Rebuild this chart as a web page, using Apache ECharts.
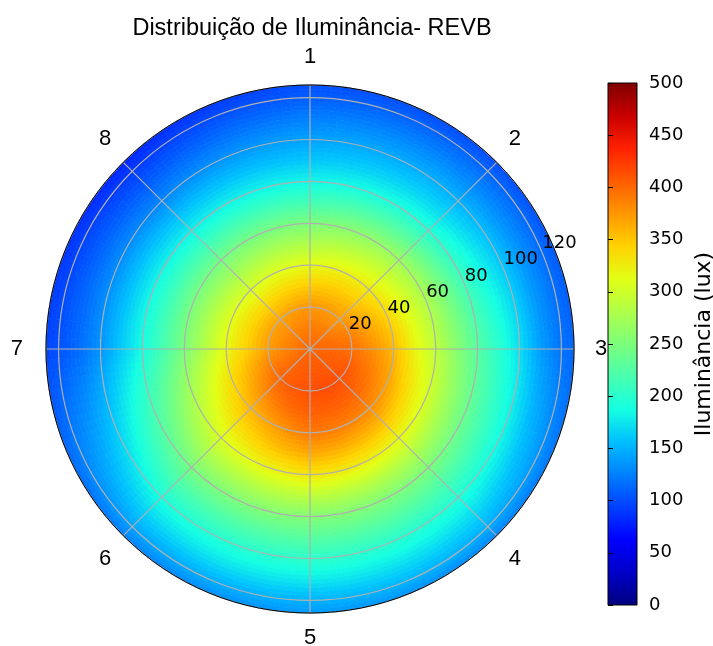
<!DOCTYPE html>
<html><head><meta charset="utf-8">
<script src="https://cdn.jsdelivr.net/npm/echarts@6/dist/echarts.min.js"></script>
<style>html,body{margin:0;padding:0;background:#fff}#c{width:713px;height:646px}</style>
</head><body><div id="c"></div>
<script>
const chartTitle = 'Distribuição de Iluminância- REVB';
const colorbarName = 'Iluminância (lux)';
const angleLabels = ['1','2','3','4','5','6','7','8'];
const radialTicks = [20,40,60,80,100,120];
const colorbarTicks = [0,50,100,150,200,250,300,350,400,450,500];
const R_MAX = 126;
// radial sample positions
const radii = [0,10,20,30,40,50,60,70,80,90,100,110,120,126];
// angular sample positions (degrees clockwise from direction 1)
const angles = [0,22.5,45,67.5,90,112.5,135,157.5,180,202.5,225,247.5,270,292.5,315,337.5];
// illuminance (lux) along each angle, one value per radius
const lux_a000 = [400,390,376,348,315,282,250,215,183,160,142,125,108,102];
const lux_a022 = [400,390,375,350,322,291,260,224,189,165,146,128,110,101];
const lux_a045 = [400,392,374,352,328,300,270,232,195,170,150,130,112,100];
const lux_a067 = [400,396,386,366,342,310,280,245,212,185,161,135,115,105];
const lux_a090 = [400,402,397,380,357,320,290,258,228,200,172,140,118,112];
const lux_a112 = [400,405,408,392,370,336,304,270,239,211,184,156,134,120];
const lux_a135 = [400,408,415,403,383,352,318,282,250,222,195,172,148,128];
const lux_a157 = [400,409,416,406,389,360,326,287,253,226,200,176,152,135];
const lux_a180 = [400,409,414,406,392,366,331,290,255,228,203,178,150,138];
const lux_a202 = [400,406,410,398,375,351,320,285,253,224,198,175,148,133];
const lux_a225 = [400,403,405,384,359,334,308,278,248,219,192,168,143,125];
const lux_a247 = [400,395,389,365,338,310,279,248,218,190,163,142,124,112];
const lux_a270 = [400,388,373,345,318,285,250,218,188,162,135,115,102,96];
const lux_a292 = [400,387,371,342,312,280,248,215,184,158,132,112,95,88];
const lux_a315 = [400,387,369,338,305,275,245,212,180,155,128,108,90,80];
const lux_a337 = [400,388,372,343,310,278,247,213,181,157,135,116,99,90];
const luxByAngle = [lux_a000,lux_a022,lux_a045,lux_a067,lux_a090,lux_a112,lux_a135,lux_a157,
                    lux_a180,lux_a202,lux_a225,lux_a247,lux_a270,lux_a292,lux_a315,lux_a337];

const jet = ['#000080','#0000c8','#0000ff','#0040ff','#0080ff','#00bfff','#15ffe2','#48ffaf',
             '#7bff7b','#afff48','#e2ff15','#ffd200','#ff9700','#ff5c00','#ff2100','#c80000','#800000'];
const V_MIN = 0, V_MAX = 500;

const data = [];
angles.forEach((a, ai) => {
  radii.forEach((r, ri) => { data.push([r, a, luxByAngle[ai][ri]]); });
});

function colorOf(v) {
  const t = Math.max(0, Math.min(1, (v - V_MIN) / (V_MAX - V_MIN)));
  return echarts.color.lerp(t, jet);
}

// Each sample point anchors the cell spanning to the next radius and next angle;
// the cell is shaded smoothly between its four corner samples (gouraud-like shading).
function renderItem(params, api) {
  const r = api.value(0), a = api.value(1);
  const ri = radii.indexOf(r), ai = angles.indexOf(a);
  if (ri < 0 || ai < 0 || ri === radii.length - 1) return { type: 'group', children: [] };
  const aj = (ai + 1) % angles.length;
  const rNext = radii[ri + 1];
  const aNext = ai + 1 < angles.length ? angles[ai + 1] : 360;
  const v00 = luxByAngle[ai][ri], v01 = luxByAngle[ai][ri + 1];
  const v10 = luxByAngle[aj][ri], v11 = luxByAngle[aj][ri + 1];
  const cs = params.coordSys;
  const cx = cs.cx, cy = cs.cy;
  const nR = rNext - r > 7 ? 5 : 3, nA = 10;
  const rad = rv => { const p = api.coord([rv, a]); return Math.hypot(p[0] - cx, p[1] - cy); };
  const ang = av => { const p = api.coord([R_MAX, av]); return Math.atan2(p[1] - cy, p[0] - cx); };
  const rPx = [], aPx = [];
  for (let k = 0; k <= nR; k++) rPx.push(rad(r + (rNext - r) * k / nR));
  for (let k = 0; k <= nA; k++) aPx.push(ang(a + (aNext - a) * k / nA));
  const children = [];
  for (let j = 0; j < nA; j++) {
    let sa = aPx[j], ea = aPx[j + 1];
    if (ea < sa) ea += 2 * Math.PI;
    const u = (j + 0.5) / nA;
    for (let k = 0; k < nR; k++) {
      const w = (k + 0.5) / nR;
      const v = (1 - u) * (1 - w) * v00 + u * (1 - w) * v10 + (1 - u) * w * v01 + u * w * v11;
      const c = colorOf(v);
      children.push({
        type: 'sector',
        shape: { cx: cx, cy: cy, r0: rPx[k], r: rPx[k + 1], startAngle: sa, endAngle: ea, clockwise: true },
        style: { fill: c, stroke: c, lineWidth: 0.7 }
      });
    }
  }
  return { type: 'group', children: children };
}

// colour bar: one rectangle spanning the value range, filled with the jet ramp
function renderColorbar(params, api) {
  const p0 = api.coord([api.value(0), api.value(1)]);
  const p1 = api.coord([api.value(2), api.value(3)]);
  const stops = jet.map((c, k) => ({ offset: k / (jet.length - 1), color: jet[jet.length - 1 - k] }));
  return {
    type: 'rect',
    shape: { x: p0[0], y: p1[1], width: p1[0] - p0[0], height: p0[1] - p1[1] },
    style: { fill: new echarts.graphic.LinearGradient(0, 0, 0, 1, stops) }
  };
}

const angleRich = {
  p0: {}, p1: {}, p2: { padding: [0, 0, 0, 4] }, p3: {}, p4: { lineHeight: 16 }, p5: {},
  p6: { padding: [0, 6, 0, 0] }, p7: {}
};

const chart = echarts.init(document.getElementById('c'), null, { renderer: 'canvas' });
chart.setOption({
  animation: false,
  backgroundColor: '#fff',
  title: {
    text: chartTitle, left: 307, top: 12, textAlign: 'center',
    textStyle: { fontFamily: 'Liberation Sans', fontSize: 23.5, fontWeight: 'normal', color: '#000' }
  },
  polar: [
    { center: [310, 349], radius: 264 },
    { center: [310, 349], radius: 264 }
  ],
  angleAxis: [
    {
      polarIndex: 0, type: 'value', min: 0, max: 360, interval: 45, startAngle: 90, clockwise: true, z: 11,
      axisLine: { show: true, lineStyle: { color: '#000', width: 1 } },
      axisTick: { show: false },
      axisLabel: {
        formatter: v => { if (v >= 360) return ''; const i = Math.round(v / 45); return '{p' + i + '|' + angleLabels[i] + '}'; },
        fontFamily: 'Liberation Sans', fontSize: 22, color: '#000', margin: 17, rich: angleRich
      },
      splitLine: { show: true, lineStyle: { color: '#b0b0b0', width: 1.2 } }
    },
    {
      polarIndex: 1, type: 'value', min: 0, max: 360, startAngle: 22.5, show: false
    }
  ],
  radiusAxis: [
    {
      polarIndex: 0, type: 'value', min: 0, max: R_MAX, interval: 20, z: 10,
      axisLine: { show: false }, axisTick: { show: false }, axisLabel: { show: false },
      splitLine: { show: true, lineStyle: { color: '#b0b0b0', width: 1.2 } }
    },
    {
      polarIndex: 1, type: 'value', min: 0, max: R_MAX, interval: 20, z: 12,
      axisLine: { show: false }, axisTick: { show: false }, splitLine: { show: false },
      axisLabel: { formatter: v => (radialTicks.indexOf(v) >= 0 ? String(v) : ''), fontFamily: 'DejaVu Sans',
                   fontSize: 18, color: '#000', margin: 0, align: 'left', verticalAlign: 'bottom' }
    }
  ],
  grid: { left: 608, top: 83, width: 29, height: 522, show: true, borderColor: '#000', borderWidth: 1,
          backgroundColor: 'transparent', z: 6, containLabel: false, outerBoundsMode: 'none' },
  xAxis: { type: 'value', show: false, min: 0, max: 1 },
  yAxis: {
    type: 'value', min: V_MIN, max: V_MAX, interval: 50, position: 'right', z: 6,
    axisLine: { show: false },
    axisTick: { show: true, length: 5, lineStyle: { color: '#000', width: 1 } },
    axisLabel: { formatter: v => (colorbarTicks.indexOf(v) >= 0 ? String(v) : ''), fontFamily: 'DejaVu Sans',
                 fontSize: 18, color: '#000', margin: 12 },
    splitLine: { show: false },
    name: colorbarName, nameLocation: 'middle', nameRotate: 90, nameGap: 56,
    nameTextStyle: { fontFamily: 'DejaVu Sans', fontSize: 22, color: '#000' }
  },
  visualMap: {
    type: 'continuous', show: false, min: V_MIN, max: V_MAX, dimension: 2, seriesIndex: 0,
    inRange: { color: jet }
  },
  series: [
    { type: 'custom', coordinateSystem: 'polar', polarIndex: 0, renderItem: renderItem, data: data, z: 1, silent: true },
    { type: 'custom', coordinateSystem: 'cartesian2d', renderItem: renderColorbar, data: [[0, V_MIN, 1, V_MAX]],
      encode: { x: [0, 2], y: [1, 3] }, z: 1, silent: true }
  ]
});
</script></body></html>
